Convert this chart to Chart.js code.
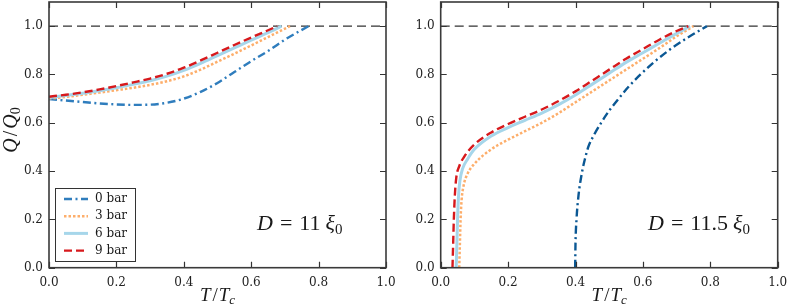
<!DOCTYPE html>
<html><head><meta charset="utf-8">
<script src="https://cdn.jsdelivr.net/npm/chart.js@4.4.0/dist/chart.umd.min.js"></script>
<style>
html,body{margin:0;padding:0;background:#fff;}
#wrap{position:relative;width:789px;height:306px;overflow:hidden;}
.panel{position:absolute;top:0;height:306px;}
</style></head><body>
<div id="wrap">
<div class="panel" style="left:0;width:395px"><canvas id="c1" width="395" height="306"></canvas></div>
<div class="panel" style="left:395px;width:394px"><canvas id="c2" width="394" height="306"></canvas></div>
</div>
<script>
// ---- data ----
const seriesLabels = ['0 bar', '3 bar', '6 bar', '9 bar'];
const xTickValues = [0, 0.2, 0.4, 0.6, 0.8, 1.0];
const yTickValues = [0, 0.2, 0.4, 0.6, 0.8, 1.0];
const panelNotes = ['11', '11.5'];

// Left panel (D = 11 xi0)
const L0_T = [0,0.05,0.1,0.15,0.2,0.25,0.3,0.35,0.4,0.45,0.5,0.55,0.6,0.65,0.7,0.77];
const L0_Q = [0.698,0.692,0.686,0.68,0.676,0.674,0.675,0.683,0.70,0.728,0.765,0.81,0.855,0.897,0.944,1.0];
const L3_T = [0,0.05,0.1,0.15,0.2,0.25,0.3,0.35,0.4,0.45,0.5,0.55,0.6,0.65,0.715];
const L3_Q = [0.70,0.707,0.716,0.725,0.735,0.745,0.757,0.772,0.792,0.82,0.853,0.886,0.92,0.955,1.0];
const L6_T = [0,0.05,0.1,0.15,0.2,0.25,0.3,0.35,0.4,0.45,0.5,0.55,0.6,0.65,0.69];
const L6_Q = [0.705,0.713,0.722,0.733,0.745,0.759,0.774,0.793,0.817,0.846,0.878,0.91,0.942,0.973,1.0];
const L9_T = [0,0.05,0.1,0.15,0.2,0.25,0.3,0.35,0.4,0.45,0.5,0.55,0.6,0.65,0.677];
const L9_Q = [0.708,0.716,0.726,0.738,0.752,0.767,0.783,0.803,0.828,0.858,0.89,0.922,0.953,0.983,1.0];

// Right panel (D = 11.5 xi0)
const R0_T = [0.399,0.400,0.403,0.409,0.420,0.428,0.438,0.455,0.476,0.50,0.528,0.558,0.593,0.632,0.677,0.73,0.79];
const R0_Q = [0,0.1,0.2,0.3,0.4,0.45,0.5,0.55,0.6,0.65,0.7,0.75,0.8,0.85,0.9,0.95,1.0];
const R3_T = [0.055,0.057,0.059,0.062,0.068,0.08,0.1,0.15,0.2,0.25,0.3,0.35,0.4,0.45,0.5,0.55,0.6,0.65,0.7,0.75];
const R3_Q = [0,0.1,0.2,0.28,0.34,0.39,0.43,0.49,0.53,0.565,0.6,0.64,0.685,0.73,0.775,0.82,0.865,0.91,0.958,1.0];
const R6_T = [0.046,0.048,0.05,0.053,0.057,0.065,0.08,0.1,0.15,0.2,0.25,0.3,0.35,0.4,0.45,0.5,0.55,0.6,0.65,0.7,0.74];
const R6_Q = [0,0.1,0.2,0.3,0.36,0.41,0.45,0.49,0.545,0.58,0.61,0.64,0.675,0.715,0.76,0.805,0.85,0.89,0.93,0.97,1.0];
const R9_T = [0.035,0.037,0.039,0.042,0.046,0.055,0.07,0.1,0.15,0.2,0.25,0.3,0.35,0.4,0.45,0.5,0.55,0.6,0.65,0.7,0.735];
const R9_Q = [0,0.1,0.2,0.3,0.37,0.42,0.46,0.51,0.56,0.595,0.625,0.655,0.69,0.73,0.775,0.82,0.865,0.905,0.945,0.98,1.0];

// reference line Q/Q0 = 1
const REF_T = [0, 1];
const REF_Q = [1, 1];

// ---- helpers ----
const pts = (xs, ys) => xs.map((x, i) => ({x: x, y: ys[i]}));
const SERIF = '"DejaVu Serif", serif';
const MATH = '"Liberation Serif", "DejaVu Serif", serif';

function makeDatasets(sets, blue) {
  const styles = [
    {color: blue,      width: 2.4, dash: [8, 3.5, 2, 3.5], order: 3},
    {color: '#fdae6b', width: 2.5, dash: [2.5, 2],         order: 2},
    {color: '#a6d6ea', width: 3.0, dash: [],               order: 1},
    {color: '#d7191c', width: 2.4, dash: [8, 4],           order: 0}
  ];
  const ds = sets.map((s, i) => ({
    label: seriesLabels[i],
    data: pts(s[0], s[1]),
    borderColor: styles[i].color,
    backgroundColor: styles[i].color,
    borderWidth: styles[i].width,
    borderDash: styles[i].dash,
    order: styles[i].order,
    showLine: true, pointRadius: 0, pointHoverRadius: 0,
    cubicInterpolationMode: 'monotone', fill: false, borderCapStyle: 'butt'
  }));
  ds.push({
    label: '', isRef: true,
    data: pts(REF_T, REF_Q),
    borderColor: '#333', borderWidth: 1.3, borderDash: [9, 5],
    order: 5, showLine: true, pointRadius: 0, fill: false
  });
  return ds;
}

function drawMath(ctx, parts, x, y, align) {
  let w = 0;
  parts.forEach(p => { ctx.font = p.font; p.w = ctx.measureText(p.t).width; w += p.w + (p.gap || 0); });
  let cx = align === 'center' ? x - w / 2 : x;
  parts.forEach(p => {
    ctx.font = p.font;
    ctx.fillText(p.t, cx, y + (p.dy || 0));
    cx += p.w + (p.gap || 0);
  });
}

const framePlugin = {
  id: 'frame',
  afterDatasetsDraw(chart) {
    const ctx = chart.ctx, a = chart.chartArea;
    const xs = chart.scales.x, ys = chart.scales.y;
    ctx.save();
    ctx.strokeStyle = '#333';
    ctx.lineWidth = 1.2;
    const L = 6;
    ctx.beginPath();
    xTickValues.forEach(v => {
      const px = Math.round(xs.getPixelForValue(v)) + 0.5;
      ctx.moveTo(px, a.bottom); ctx.lineTo(px, a.bottom - L);
      ctx.moveTo(px, a.top); ctx.lineTo(px, a.top + L);
    });
    yTickValues.forEach(v => {
      const py = Math.round(ys.getPixelForValue(v)) + 0.5;
      ctx.moveTo(a.left, py); ctx.lineTo(a.left + L, py);
      ctx.moveTo(a.right, py); ctx.lineTo(a.right - L, py);
    });
    ctx.stroke();
    ctx.lineWidth = 1.6;
    ctx.strokeStyle = '#3a3a3a';
    ctx.strokeRect(a.left, a.top, a.right - a.left, a.bottom - a.top);
    ctx.restore();
  },
  afterDraw(chart, args, opts) {
    const ctx = chart.ctx, a = chart.chartArea;
    ctx.save();
    ctx.fillStyle = '#1a1a1a';
    ctx.textBaseline = 'alphabetic';
    // x axis title T/T_c
    drawMath(ctx, [
      {t: 'T', font: 'italic 19px ' + MATH, gap: 2},
      {t: '/', font: '19px ' + MATH, gap: 1},
      {t: 'T', font: 'italic 19px ' + MATH, gap: 0},
      {t: 'c', font: 'italic 13px ' + MATH, dy: 3}
    ], (a.left + a.right) / 2, 301, 'center');
    // y axis title
    if (opts.yTitle) {
      ctx.save();
      ctx.translate(17, 130);
      ctx.rotate(-Math.PI / 2);
      drawMath(ctx, [
        {t: 'Q', font: 'italic 20px ' + MATH, gap: 2},
        {t: '/', font: '20px ' + MATH, gap: 2},
        {t: 'Q', font: 'italic 20px ' + MATH, gap: 0},
        {t: '0', font: '14px ' + MATH, dy: 3}
      ], 0, 0, 'center');
      ctx.restore();
    }
    // annotation D = ... xi0
    drawMath(ctx, [
      {t: 'D', font: 'italic 22px ' + MATH, gap: 7},
      {t: '=', font: '22px ' + MATH, gap: 7},
      {t: opts.note, font: '22px ' + MATH, gap: 5},
      {t: 'ξ', font: 'italic 22px ' + MATH, gap: 0},
      {t: '0', font: '15px ' + MATH, dy: 4}
    ], opts.noteX, 230, 'left');
    // legend
    if (opts.legend) {
      const lx = 55, ly = 188, lw = 80, lh = 73;
      ctx.fillStyle = '#fff';
      ctx.fillRect(lx, ly, lw, lh);
      ctx.strokeStyle = '#333';
      ctx.lineWidth = 1;
      ctx.strokeRect(lx + 0.5, ly + 0.5, lw, lh);
      const items = chart.data.datasets.filter(d => !d.isRef);
      items.forEach((d, i) => {
        const yy = 199 + i * 17.2;
        ctx.save();
        ctx.strokeStyle = d.borderColor;
        ctx.lineWidth = d.borderWidth;
        ctx.setLineDash(d.borderDash || []);
        ctx.beginPath();
        ctx.moveTo(64, yy); ctx.lineTo(88, yy);
        ctx.stroke();
        ctx.restore();
        ctx.fillStyle = '#1a1a1a';
        ctx.font = '12px ' + SERIF;
        ctx.textBaseline = 'middle';
        ctx.fillText(d.label, 95, yy);
      });
    }
    ctx.restore();
  }
};

function makeChart(id, datasets, yAxisWidth, rightPad, opts) {
  return new Chart(document.getElementById(id), {
    type: 'scatter',
    data: {datasets: datasets},
    options: {
      responsive: false, animation: false,
      layout: {padding: {top: 2, right: rightPad, left: 0, bottom: 0}},
      plugins: {legend: {display: false}, tooltip: {enabled: false}, frame: opts},
      scales: {
        x: {
          type: 'linear', min: 0, max: 1,
          afterBuildTicks: s => { s.ticks = xTickValues.map(v => ({value: v})); },
          afterFit: s => { s.height = 306 - 267.7; s.paddingLeft = 0; s.paddingRight = 0; },
          grid: {display: false, drawTicks: false}, border: {display: false},
          ticks: {padding: 8, color: '#222', font: {family: SERIF, size: 12}, maxRotation: 0, autoSkip: false,
                  callback: v => Number(v).toFixed(1)}
        },
        y: {
          type: 'linear', min: 0, max: 1.1,
          afterBuildTicks: s => { s.ticks = yTickValues.map(v => ({value: v})); },
          afterFit: s => { s.width = yAxisWidth; s.paddingTop = 0; s.paddingBottom = 0; },
          grid: {display: false, drawTicks: false}, border: {display: false},
          ticks: {padding: 6, color: '#222', font: {family: SERIF, size: 12}, autoSkip: false,
                  callback: v => Number(v).toFixed(1)}
        }
      }
    },
    plugins: [framePlugin]
  });
}

makeChart('c1', makeDatasets([[L0_T, L0_Q], [L3_T, L3_Q], [L6_T, L6_Q], [L9_T, L9_Q]], '#2f7dbd'),
  49, 9, {yTitle: true, legend: true, note: panelNotes[0], noteX: 257});
makeChart('c2', makeDatasets([[R0_T, R0_Q], [R3_T, R3_Q], [R6_T, R6_Q], [R9_T, R9_Q]], '#0b5894'),
  45.7, 11.3, {yTitle: false, legend: false, note: panelNotes[1], noteX: 253});
</script>
</body></html>
